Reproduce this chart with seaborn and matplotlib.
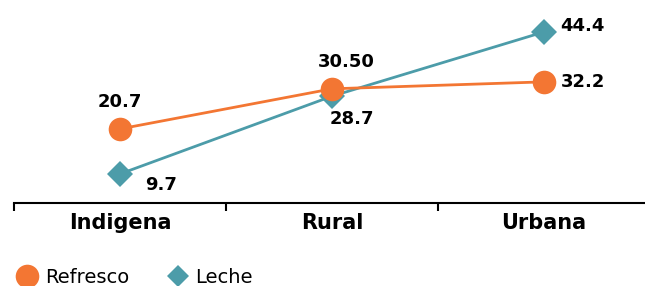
import pandas as pd
import numpy as np
import matplotlib.pyplot as plt
import seaborn as sns

# Data
categorias = ['Indigena', 'Rural', 'Urbana']
refresco = [20.7, 30.50, 32.2]
leche = [9.7, 28.7, 44.4]
etiq_refresco = ['20.7', '30.50', '32.2']
etiq_leche = ['9.7', '28.7', '44.4']

naranja = '#F37633'
azul = '#4C9CA9'

sns.set_theme(style='white')
plt.rcParams['font.family'] = ['DejaVu Sans']
plt.rcParams['text.color'] = 'black'
plt.rcParams['xtick.color'] = 'black'

fig = plt.figure(figsize=(6.45, 2.86), dpi=100)
ax = fig.add_axes([14/645, 83/286, 636/645, 203/286])

sns.lineplot(x=categorias, y=refresco, ax=ax, color=naranja, linewidth=2,
             marker='o', markersize=17, markeredgewidth=0, label='Refresco', sort=False,
             zorder=4)
sns.lineplot(x=categorias, y=leche, ax=ax, color=azul, linewidth=2,
             marker='D', markersize=13, markeredgewidth=0, label='Leche', sort=False,
             zorder=3)

ax.set_xlim(-0.5, 2.5)
ax.set_ylim(2.6, 52.2)

# Data labels
off_ref = [(0, 13), (10, 13), (12, 0)]
ha_ref = ['center', 'center', 'left']
va_ref = ['bottom', 'bottom', 'center']
for i, (v, t) in enumerate(zip(refresco, etiq_refresco)):
    ax.annotate(t, (i, v), xytext=off_ref[i], textcoords='offset points',
                ha=ha_ref[i], va=va_ref[i], fontsize=13, fontweight='bold', color='black')

off_le = [(18, -8), (-2, -10), (12, 4)]
ha_le = ['left', 'left', 'left']
va_le = ['center', 'top', 'center']
for i, (v, t) in enumerate(zip(leche, etiq_leche)):
    ax.annotate(t, (i, v), xytext=off_le[i], textcoords='offset points',
                ha=ha_le[i], va=va_le[i], fontsize=13, fontweight='bold', color='black')

# Axes styling
for s in ['top', 'right', 'left']:
    ax.spines[s].set_visible(False)
ax.spines['bottom'].set_color('black')
ax.spines['bottom'].set_linewidth(1.5)
ax.set_yticks([])
ax.set_xticks([0, 1, 2])
ax.set_xticklabels(categorias, fontsize=15, fontweight='bold', color='black')
ax.set_xticks([-0.5, 0.5, 1.5, 2.5], minor=True)
ax.tick_params(axis='x', which='major', length=0, pad=7)
ax.tick_params(axis='x', which='minor', length=6, width=1.5, color='black', direction='out', bottom=True)

# Legend at the bottom
ax.legend_.remove()
h, l = ax.get_legend_handles_labels()
fig.legend(h, l, loc='lower left', bbox_to_anchor=(0.0, -0.065), ncol=2, frameon=False,
           fontsize=14, handlelength=1.0, handletextpad=0.4, columnspacing=2.0,
           labelcolor='black')
leg_lines = fig.legends[0].get_lines()
for line in leg_lines:
    line.set_linestyle('none')
leg_lines[1].set_markersize(11)

fig.savefig('out.png', dpi=100)
